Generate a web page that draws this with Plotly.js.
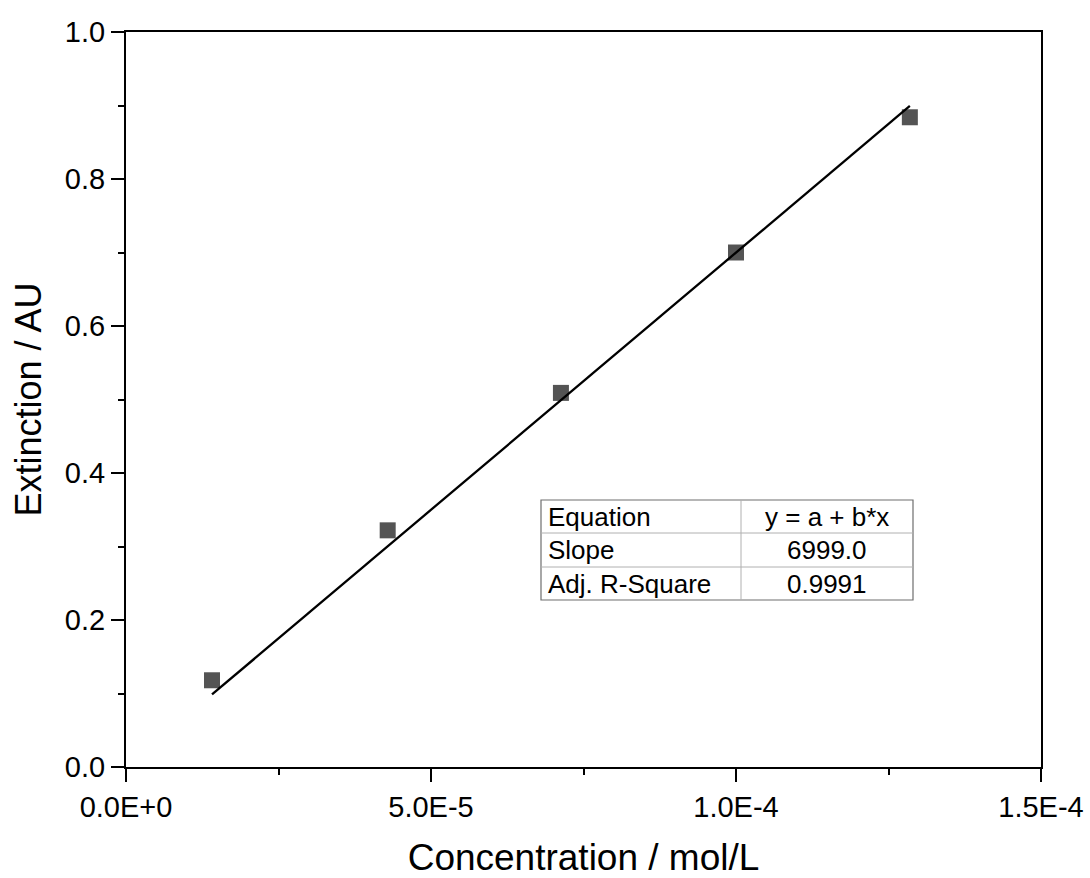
<!DOCTYPE html>
<html>
<head>
<meta charset="utf-8">
<script src="https://cdn.plot.ly/plotly-3.0.1.min.js"></script>
<style>
html,body{margin:0;padding:0;background:#fff;}
#chart{width:1090px;height:878px;}
</style>
</head>
<body>
<div id="chart"></div>
<script>
// Data
var concentration = [1.41e-5, 4.29e-5, 7.13e-5, 1.0e-4, 1.285e-4];
var extinction = [0.118, 0.322, 0.509, 0.700, 0.884];
var slope = 6999.0;
var intercept = 0;
var xTickVals = [0, 5e-5, 1e-4, 1.5e-4];
var xTickText = ["0.0E+0", "5.0E-5", "1.0E-4", "1.5E-4"];
var yTickVals = [0, 0.2, 0.4, 0.6, 0.8, 1.0];
var tableLabels = ["Equation", "Slope", "Adj. R-Square"];
var tableValues = ["y = a + b*x", "6999.0", "0.9991"];

var fitX = [Math.min.apply(null, concentration), Math.max.apply(null, concentration)];
var fitY = fitX.map(function(x){ return intercept + slope * x; });

var W = 1090, H = 878;
var L = 126, R = 1041, T = 32, B = 767;
function px(x){ return (x - L) / (R - L); }
function py(y){ return (B - y) / (B - T); }

var font = "Arial, 'Liberation Sans', sans-serif";

var traces = [
  {
    x: concentration, y: extinction, mode: 'markers', type: 'scatter',
    marker: {symbol: 'square', size: 16, color: '#545454'},
    showlegend: false, hoverinfo: 'x+y'
  },
  {
    x: fitX, y: fitY, mode: 'lines', type: 'scatter',
    line: {color: '#000000', width: 2.3},
    showlegend: false
  }
];

// Table geometry (pixels)
var tL = 541, tM = 741, tR = 913;
var rows = [500, 533, 567, 600];
var shapes = [];
var annotations = [];
shapes.push({type:'rect', xref:'paper', yref:'paper', x0:px(tL), x1:px(tR), y0:py(rows[3]), y1:py(rows[0]),
  line:{color:'#6e6e6e', width:1.2}, fillcolor:'#ffffff', layer:'above'});
shapes.push({type:'line', xref:'paper', yref:'paper', x0:px(tM), x1:px(tM), y0:py(rows[3]), y1:py(rows[0]),
  line:{color:'#b0b0b0', width:1}, layer:'above'});
for (var i = 1; i < 3; i++) {
  shapes.push({type:'line', xref:'paper', yref:'paper', x0:px(tL), x1:px(tR), y0:py(rows[i]), y1:py(rows[i]),
    line:{color:'#b0b0b0', width:1}, layer:'above'});
}
for (var j = 0; j < tableLabels.length; j++) {
  var cy = (rows[j] + rows[j+1]) / 2;
  annotations.push({xref:'paper', yref:'paper', x:px(tL + 5), y:py(cy), xanchor:'left', yanchor:'middle',
    text: tableLabels[j], showarrow:false, font:{family:font, size:26, color:'#000'}});
  annotations.push({xref:'paper', yref:'paper', x:px((tM + tR) / 2), y:py(cy), xanchor:'center', yanchor:'middle',
    text: tableValues[j], showarrow:false, font:{family:font, size:26, color:'#000'}});
}

var layout = {
  width: W, height: H,
  margin: {l: L, r: W - R, t: T, b: H - B},
  paper_bgcolor: '#ffffff', plot_bgcolor: '#ffffff',
  font: {family: font, color: '#000'},
  showlegend: false,
  xaxis: {
    range: [0, 1.5e-4], tickvals: xTickVals, ticktext: xTickText,
    ticks: 'outside', ticklen: 13, tickwidth: 2, tickcolor: '#000',
    showline: true, linewidth: 2, linecolor: '#000', mirror: true,
    showgrid: false, zeroline: false,
    tickfont: {family: font, size: 29, color: '#000'},
    minor: {dtick: 2.5e-5, ticklen: 6, tickwidth: 2, tickcolor: '#000', showgrid: false},
    title: {text: 'Concentration / mol/L', font: {family: font, size: 37, color: '#000'}, standoff: 27}
  },
  yaxis: {
    range: [0, 1.0], tickvals: yTickVals, tickformat: '.1f',
    ticks: 'outside', ticklen: 13, tickwidth: 2, tickcolor: '#000',
    showline: true, linewidth: 2, linecolor: '#000', mirror: true,
    showgrid: false, zeroline: false,
    tickfont: {family: font, size: 29, color: '#000'},
    minor: {dtick: 0.1, ticklen: 6, tickwidth: 2, tickcolor: '#000', showgrid: false},
    title: {text: 'Extinction / AU', font: {family: font, size: 36, color: '#000'}, standoff: 12}
  },
  shapes: shapes,
  annotations: annotations
};

Plotly.newPlot('chart', traces, layout, {staticPlot: true, displayModeBar: false});
</script>
</body>
</html>
